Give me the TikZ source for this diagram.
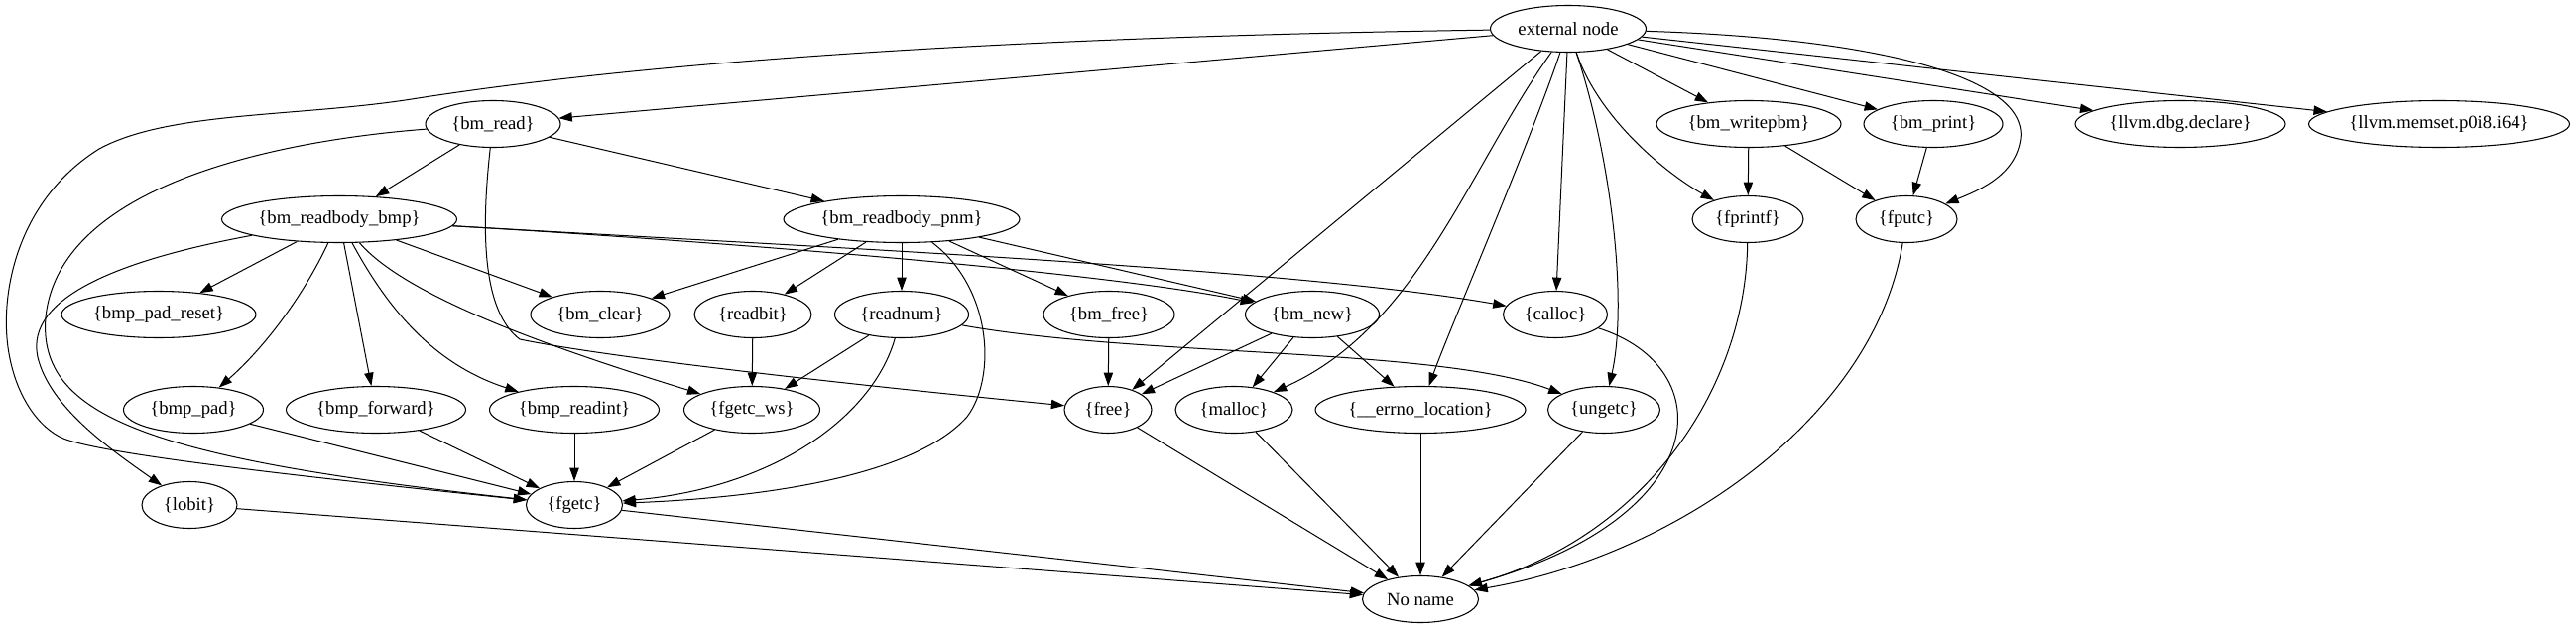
\documentclass[tikz,border=0pt]{standalone}
\usepackage{fontspec}
\setmainfont{Liberation Serif}
\usetikzlibrary{shapes.geometric,arrows.meta}
\begin{document}
\begin{tikzpicture}[x=0.75pt,y=-0.75pt,
  fnode/.style={ellipse,draw,line width=0.8pt,inner sep=0pt,minimum height=35.25pt,font=\fontsize{14}{16}\selectfont},
  wd/.style={minimum width=#1*0.75pt},
  arr/.style={line width=0.75pt,-{Triangle[length=10pt,width=7pt]}}
]
\useasboundingbox[fill=white] (0,0) rectangle (2597,635);
% row 0
\node[fnode,wd=157] (ext) at (1581,29) {external node};
% row 1
\node[fnode,wd=136] (bmread) at (497,125) {\{bm\_read\}};
\node[fnode,wd=186] (writepbm) at (1763,125) {\{bm\_writepbm\}};
\node[fnode,wd=140] (bmprint) at (1949,125) {\{bm\_print\}};
\node[fnode,wd=212] (dbg) at (2198,125) {\{llvm.dbg.declare\}};
\node[fnode,wd=263] (memset) at (2459,125) {\{llvm.memset.p0i8.i64\}};
% row 2
\node[fnode,wd=237] (bmp) at (342,221) {\{bm\_readbody\_bmp\}};
\node[fnode,wd=238] (pnm) at (909,221) {\{bm\_readbody\_pnm\}};
\node[fnode,wd=112] (fprintf) at (1762,221) {\{fprintf\}};
\node[fnode,wd=102] (fputc) at (1922,221) {\{fputc\}};
% row 3
\node[fnode,wd=196] (padreset) at (160,317) {\{bmp\_pad\_reset\}};
\node[fnode,wd=140] (bmclear) at (605,317) {\{bm\_clear\}};
\node[fnode,wd=118] (readbit) at (759,317) {\{readbit\}};
\node[fnode,wd=135] (readnum) at (909,317) {\{readnum\}};
\node[fnode,wd=132] (bmfree) at (1118,317) {\{bm\_free\}};
\node[fnode,wd=135] (bmnew) at (1323,317) {\{bm\_new\}};
\node[fnode,wd=105] (calloc) at (1568,317) {\{calloc\}};
% row 4
\node[fnode,wd=141] (bmppad) at (195,413) {\{bmp\_pad\}};
\node[fnode,wd=181] (forward) at (379,413) {\{bmp\_forward\}};
\node[fnode,wd=171] (readint) at (579,413) {\{bmp\_readint\}};
\node[fnode,wd=137] (fgetcws) at (758,413) {\{fgetc\_ws\}};
\node[fnode,wd=88] (free) at (1117,413) {\{free\}};
\node[fnode,wd=118] (malloc) at (1244,413) {\{malloc\}};
\node[fnode,wd=212] (errno) at (1432,413) {\{\_\_errno\_location\}};
\node[fnode,wd=113] (ungetc) at (1617,413) {\{ungetc\}};
% row 5
\node[fnode,wd=96] (lobit) at (191,509) {\{lobit\}};
\node[fnode,wd=97] (fgetc) at (579,509) {\{fgetc\}};
% row 6
\node[fnode,wd=117] (noname) at (1432,604) {No name};

% external node
\draw[arr] (ext) .. controls (1100,36) and (700,55) .. (415,100)
  .. controls (300,118) and (170,112) .. (100,150)
  .. controls (20,200) and (0,290) .. (8,350)
  .. controls (15,400) and (40,432) .. (64,442)
  .. controls (100,456) and (250,475) .. (fgetc);
\draw[arr] (ext) -- (bmread);
\draw[arr] (ext) -- (free);
\draw[arr] (ext) .. controls (1480,170) and (1430,330) .. (malloc);
\draw[arr] (ext) .. controls (1540,150) and (1462,330) .. (errno);
\draw[arr] (ext) -- (calloc);
\draw[arr] (ext) .. controls (1622,150) and (1642,300) .. (ungetc);
\draw[arr] (ext) .. controls (1612,120) and (1680,175) .. (fprintf);
\draw[arr] (ext) -- (writepbm);
\draw[arr] (ext) -- (bmprint);
\draw[arr] (ext) .. controls (1880,38) and (2045,75) .. (2037,140)
  .. controls (2032,175) and (2000,190) .. (fputc);
\draw[arr] (ext) -- (dbg);
\draw[arr] (ext) -- (memset);

% bm_read
\draw[arr] (bmread) -- (bmp);
\draw[arr] (bmread) -- (pnm);
\draw[arr] (bmread) .. controls (300,140) and (60,180) .. (46,320)
  .. controls (38,420) and (150,462) .. (fgetc);
\draw[arr] (bmread) .. controls (484,240) and (488,315) .. (524,342)
  .. controls (620,362) and (900,392) .. (free);

% bm_readbody_bmp
\draw[arr] (bmp) -- (padreset);
\draw[arr] (bmp) -- (bmclear);
\draw[arr] (bmp) .. controls (305,300) and (265,352) .. (bmppad);
\draw[arr] (bmp) -- (forward);
\draw[arr] (bmp) .. controls (385,300) and (430,365) .. (readint);
\draw[arr] (bmp) .. controls (410,300) and (560,352) .. (fgetcws);
\draw[arr] (bmp) .. controls (120,262) and (25,300) .. (38,360)
  .. controls (50,410) and (110,452) .. (lobit);
\draw[arr] (bmp) .. controls (700,242) and (1100,272) .. (bmnew);
\draw[arr] (bmp) .. controls (800,248) and (1300,270) .. (calloc);

% bm_readbody_pnm
\draw[arr] (pnm) -- (bmclear);
\draw[arr] (pnm) -- (readbit);
\draw[arr] (pnm) -- (readnum);
\draw[arr] (pnm) -- (bmfree);
\draw[arr] (pnm) -- (bmnew);
\draw[arr] (pnm) .. controls (1000,290) and (1005,380) .. (975,420)
  .. controls (920,482) and (760,502) .. (fgetc);

% readbit / readnum
\draw[arr] (readbit) -- (fgetcws);
\draw[arr] (readnum) -- (fgetcws);
\draw[arr] (readnum) .. controls (880,420) and (780,492) .. (fgetc);
\draw[arr] (readnum) .. controls (1150,360) and (1450,350) .. (ungetc);

% bm_free / bm_new
\draw[arr] (bmfree) -- (free);
\draw[arr] (bmnew) -- (free);
\draw[arr] (bmnew) -- (malloc);
\draw[arr] (bmnew) -- (errno);

% writers
\draw[arr] (writepbm) -- (fprintf);
\draw[arr] (writepbm) -- (fputc);
\draw[arr] (bmprint) -- (fputc);

% into fgetc
\draw[arr] (bmppad) -- (fgetc);
\draw[arr] (forward) -- (fgetc);
\draw[arr] (readint) -- (fgetc);
\draw[arr] (fgetcws) -- (fgetc);

% into No name
\draw[arr] (lobit) -- (noname);
\draw[arr] (fgetc) -- (noname);
\draw[arr] (free) -- (noname);
\draw[arr] (malloc) -- (noname);
\draw[arr] (errno) -- (noname);
\draw[arr] (ungetc) -- (noname);
\draw[arr] (calloc) .. controls (1735,370) and (1730,520) .. (noname);
\draw[arr] (fprintf) .. controls (1760,390) and (1660,540) .. (noname);
\draw[arr] (fputc) .. controls (1890,420) and (1690,560) .. (noname);
\end{tikzpicture}
\end{document}
